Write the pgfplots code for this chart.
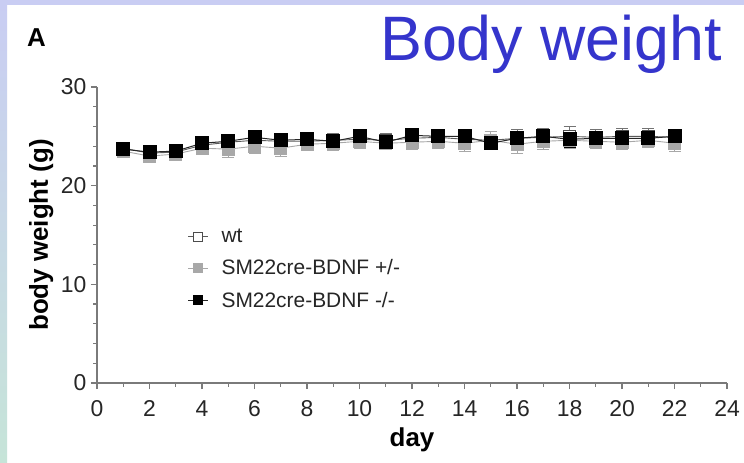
\documentclass[border=0pt]{standalone}
\usepackage{fontspec}
\setmainfont{Liberation Sans}
\usepackage{pgfplots}
\pgfplotsset{compat=1.18}

\definecolor{slideblue}{HTML}{3535CC}
\definecolor{framelav}{HTML}{C9CDF3}
\definecolor{framegreen}{HTML}{C6E4D8}
\definecolor{axisgray}{HTML}{7A7A7A}
\definecolor{hetgray}{HTML}{A8A8A8}
\definecolor{linegray}{HTML}{5A5A5A}

\begin{document}
\begin{tikzpicture}
% slide background and frame
\fill[white] (0bp,0bp) rectangle (744bp,-463bp);
\fill[framelav] (0bp,0bp) rectangle (744bp,-5bp);
\shade[top color=framelav, bottom color=framegreen] (0bp,0bp) rectangle (7bp,-463bp);
\node[anchor=base west, inner sep=0, text=slideblue,
      font=\fontsize{63}{63}\selectfont] at (380bp,-60bp) {Body weight};
\node[anchor=base west, inner sep=0,
      font=\bfseries\fontsize{26}{26}\selectfont] at (27bp,-46bp) {A};

\begin{axis}[
    at={(97bp,-383bp)}, anchor=south west,
    scale only axis,
    width=630bp, height=296bp,
    xmin=0, xmax=24, ymin=0, ymax=30,
    axis x line*=bottom, axis y line*=left,
    xtick={0,2,...,24}, minor x tick num=1,
    ytick={0,10,20,30}, minor y tick num=4,
    tick align=outside,
    major tick length=6bp, minor tick length=3.5bp,
    axis line style={draw=axisgray, line width=1.6bp},
    tick style={draw=axisgray, line width=1.2bp},
    /pgf/number format/assume math mode=true,
    ticklabel style={font=\fontsize{23}{23}\selectfont, text=black!85},
    xticklabel style={yshift=-8bp},
    yticklabel style={xshift=-1bp},
    xlabel={\textbf{day}},
    ylabel={\textbf{body weight (g)}},
    label style={font=\fontsize{26}{26}\selectfont},
    xlabel style={at={(axis description cs:0.5,0)}, anchor=base, yshift=-63bp},
    ylabel style={at={(axis description cs:0,0.5)}, anchor=base, yshift=49bp},
    legend style={at={(axis cs:3.33,16.0)}, anchor=north west,
        draw=none, fill=none, font=\fontsize{21}{21}\selectfont,
        nodes={font=\fontsize{21}{21}\selectfont, text=black!85},
        row sep=11.5bp,
        /tikz/every odd column/.append style={column sep=11bp}},
    legend cell align=left,
    legend image code/.code={%
        \draw[mark repeat=2, mark phase=2, #1]
        plot coordinates {(0bp,0bp) (10bp,0bp) (20bp,0bp)};},
    legend image post style={mark size=4.5bp},
    error bars/y dir=both, error bars/y explicit,
]

% wt
\addplot[draw=linegray, line width=0.9bp, mark=square*, mark size=6bp,
    mark options={fill=white, draw=black!70, line width=1bp},
    error bars/error bar style={black!55, line width=0.8bp},
    error bars/error mark options={rotate=90, mark size=6bp, black!55, line width=0.8bp}]
coordinates {
(1,23.8)+-(0,0.6) (2,23.3)+-(0,0.6) (3,23.4)+-(0,0.6) (4,24.1)+-(0,0.7)
(5,24.4)+-(0,0.8) (6,24.6)+-(0,0.7) (7,24.5)+-(0,0.8) (8,24.5)+-(0,0.7)
(9,24.6)+-(0,0.7) (10,24.7)+-(0,0.8) (11,24.6)+-(0,0.7) (12,24.8)+-(0,0.8)
(13,24.9)+-(0,0.8) (14,24.7)+-(0,0.8) (15,24.6)+-(0,0.9) (16,24.8)+-(0,0.9)
(17,24.9)+-(0,0.9) (18,25.0)+-(0,1.0) (19,24.9)+-(0,0.8) (20,25.0)+-(0,0.8)
(21,25.0)+-(0,0.8) (22,24.9)+-(0,0.8)
};
\addlegendentry{wt}

% SM22cre-BDNF +/-
\addplot[draw=hetgray, line width=0.9bp, mark=square*, mark size=6bp,
    mark options={fill=hetgray, draw=hetgray},
    error bars/error bar style={hetgray, line width=0.8bp},
    error bars/error mark options={rotate=90, mark size=6bp, hetgray, line width=0.8bp}]
coordinates {
(1,23.5)+-(0,0.5) (2,23.0)+-(0,0.6) (3,23.2)+-(0,0.6) (4,23.8)+-(0,0.6)
(5,23.7)+-(0,0.8) (6,24.0)+-(0,0.7) (7,23.8)+-(0,0.8) (8,24.2)+-(0,0.6)
(9,24.3)+-(0,0.7) (10,24.5)+-(0,0.7) (11,24.3)+-(0,0.6) (12,24.4)+-(0,0.7)
(13,24.5)+-(0,0.7) (14,24.3)+-(0,0.8) (15,24.6)+-(0,0.9) (16,24.2)+-(0,0.9)
(17,24.5)+-(0,0.8) (18,24.6)+-(0,0.8) (19,24.5)+-(0,0.7) (20,24.4)+-(0,0.7)
(21,24.6)+-(0,0.7) (22,24.3)+-(0,0.8)
};
\addlegendentry{SM22cre-BDNF +/-}

% SM22cre-BDNF -/-
\addplot[draw=black!85, line width=1bp, mark=square*, mark size=6.5bp,
    mark options={fill=black, draw=black},
    error bars/error bar style={black, line width=0.8bp},
    error bars/error mark options={rotate=90, mark size=6bp, black, line width=0.8bp}]
coordinates {
(1,23.7)+-(0,0.5) (2,23.4)+-(0,0.5) (3,23.5)+-(0,0.5) (4,24.3)+-(0,0.6)
(5,24.5)+-(0,0.6) (6,24.9)+-(0,0.6) (7,24.6)+-(0,0.6) (8,24.7)+-(0,0.6)
(9,24.5)+-(0,0.6) (10,25.0)+-(0,0.6) (11,24.4)+-(0,0.6) (12,25.1)+-(0,0.6)
(13,25.0)+-(0,0.6) (14,25.0)+-(0,0.6) (15,24.3)+-(0,0.6) (16,24.8)+-(0,0.6)
(17,25.0)+-(0,0.6) (18,24.7)+-(0,0.8) (19,24.8)+-(0,0.6) (20,24.8)+-(0,0.6)
(21,24.8)+-(0,0.6) (22,25.0)+-(0,0.6)
};
\addlegendentry{SM22cre-BDNF -/-}

\end{axis}
\end{tikzpicture}
\end{document}
